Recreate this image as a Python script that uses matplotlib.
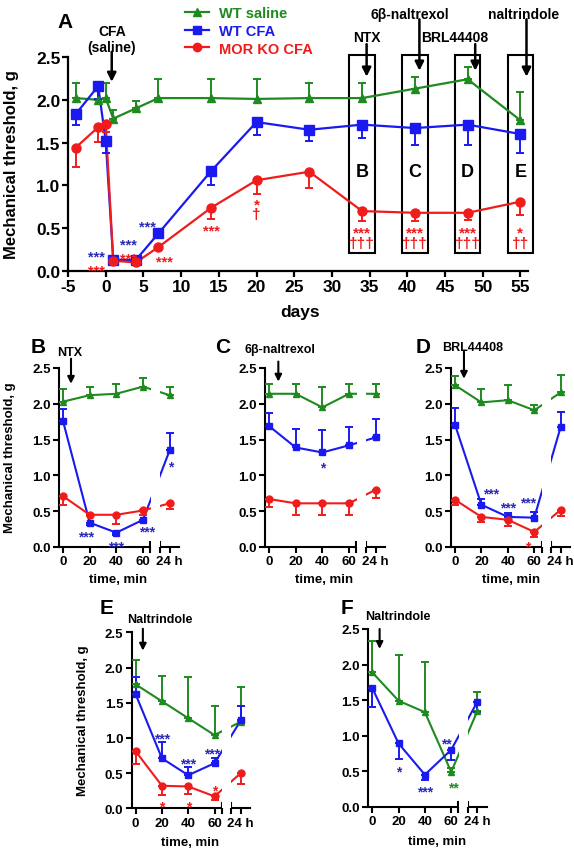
import numpy as np
import matplotlib
matplotlib.use('Agg')
from matplotlib import pyplot as plt
from matplotlib.lines import Line2D
from matplotlib.patches import Rectangle
from matplotlib.ticker import FormatStrFormatter

plt.rcParams['font.family'] = ['Liberation Sans', 'DejaVu Sans']
plt.rcParams['font.weight'] = 'bold'
plt.rcParams['axes.unicode_minus'] = False

GREEN = '#1f8a1f'
BLUE = '#1a1af0'
RED = '#f01c1c'
STAR_BLUE = '#2a2ab8'

# ---- panel A : time course over days (sem > 0 drawn up, < 0 drawn down)
days = [-4, -1, 0, 1, 4, 7, 14, 20, 27, 34, 41, 48, 55]
a_saline = [2.02, 2.00, 2.02, 1.78, 1.90, 2.02, 2.02, 2.01, 2.02, 2.02, 2.13, 2.24, 1.76]
a_saline_sem = [0.18, 0.10, 0.18, 0.10, 0.09, 0.22, 0.22, 0.23, 0.18, 0.18, 0.14, 0.14, 0.33]
a_wt = [1.83, 2.16, 1.52, 0.13, 0.13, 0.44, 1.17, 1.74, 1.65, 1.71, 1.67, 1.71, 1.60]
a_wt_sem = [-0.13, -0.15, -0.14, -0.02, -0.02, -0.05, -0.17, -0.15, -0.13, -0.16, -0.20, -0.24, -0.22]
a_ko = [1.44, 1.68, 1.72, 0.12, 0.10, 0.28, 0.74, 1.06, 1.16, 0.70, 0.68, 0.68, 0.81]
a_ko_sem = [-0.23, -0.17, -0.10, -0.02, -0.02, -0.03, -0.13, -0.16, -0.19, -0.12, -0.10, -0.08, -0.16]
box_days = [34, 41, 48, 55]
box_letters = ['B', 'C', 'D', 'E']

# ---- panels B-F : time after drug
time_labels = ['0', '20', '40', '60', '24 h']
time_pos = [0, 20, 40, 60, 80]

b_saline = [2.03, 2.12, 2.14, 2.24, 2.12]
b_saline_sem = [0.18, 0.12, 0.14, 0.12, 0.12]
b_wt = [1.76, 0.34, 0.20, 0.38, 1.35]
b_wt_sem = [0.17, -0.03, -0.03, -0.03, 0.24]
b_ko = [0.71, 0.45, 0.45, 0.51, 0.61]
b_ko_sem = [-0.13, -0.02, -0.13, -0.07, -0.08]

c_saline = [2.14, 2.14, 1.95, 2.14, 2.14]
c_saline_sem = [0.14, 0.14, 0.29, 0.14, 0.14]
c_wt = [1.69, 1.39, 1.32, 1.42, 1.53]
c_wt_sem = [0.18, 0.26, 0.32, 0.25, 0.26]
c_ko = [0.67, 0.61, 0.61, 0.61, 0.80]
c_ko_sem = [-0.11, -0.16, -0.16, -0.16, -0.12]

d_saline = [2.26, 2.02, 2.05, 1.91, 2.16]
d_saline_sem = [0.13, 0.19, 0.21, 0.08, 0.24]
d_wt = [1.71, 0.59, 0.42, 0.41, 1.68]
d_wt_sem = [0.23, 0.08, 0.05, 0.08, 0.21]
d_ko = [0.66, 0.42, 0.38, 0.21, 0.52]
d_ko_sem = [-0.08, -0.07, -0.08, -0.07, -0.09]

e_saline = [1.76, 1.52, 1.28, 1.04, 1.23]
e_saline_sem = [0.34, 0.36, 0.58, 0.42, 0.50]
e_wt = [1.62, 0.71, 0.47, 0.64, 1.25]
e_wt_sem = [0.24, 0.23, 0.11, 0.08, 0.21]
e_ko = [0.81, 0.32, 0.31, 0.17, 0.50]
e_ko_sem = [-0.18, -0.13, -0.10, -0.05, -0.16]

f_saline = [1.89, 1.49, 1.33, 0.49, 1.35]
f_saline_sem = [0.44, 0.64, 0.71, 0.05, 0.26]
f_wt = [1.67, 0.89, 0.45, 0.80, 1.48]
f_wt_sem = [-0.27, -0.22, -0.07, -0.14, -0.15]

# significance marks: (x, y, text, colour)
a_marks = [(-1.2, 0.225, '***', STAR_BLUE), (-1.2, 0.06, '***', RED),
           (3.0, 0.36, '***', STAR_BLUE), (3.0, 0.20, '***', RED),
           (5.6, 0.57, '***', STAR_BLUE), (7.8, 0.16, '***', RED),
           (14, 0.52, '***', RED)]
# stacked star / dagger pairs: (x, y, text)
a_stacks = [(20, 0.72, '*\n\u2020'),
            (34, 0.39, '***\n\u2020\u2020\u2020'),
            (41, 0.39, '***\n\u2020\u2020\u2020'),
            (48, 0.39, '***\n\u2020\u2020\u2020'),
            (55, 0.39, '*\n\u2020\u2020')]
b_marks = [(17, 0.20, '***', STAR_BLUE), (40, 0.06, '***', STAR_BLUE),
           (63, 0.26, '***', STAR_BLUE), (81, 1.18, '*', STAR_BLUE)]
c_marks = [(40, 1.16, '*', STAR_BLUE)]
d_marks = [(27, 0.80, '***', STAR_BLUE), (40, 0.60, '***', STAR_BLUE),
           (55, 0.67, '***', STAR_BLUE), (55, 0.06, '*', RED)]
e_marks = [(20, 1.04, '***', STAR_BLUE), (40, 0.68, '***', STAR_BLUE),
           (58, 0.83, '***', STAR_BLUE), (20, 0.08, '*', RED),
           (40, 0.08, '*', RED), (60, 0.31, '*', RED)]
f_marks = [(20, 0.55, '*', STAR_BLUE), (40, 0.26, '***', STAR_BLUE),
           (56, 0.94, '**', STAR_BLUE), (62, 0.32, '**', GREEN)]

W, H = 574, 853
fig = plt.figure(figsize=(W / 100, H / 100), dpi=100)


def px(x, y):
    return x / W, 1 - y / H


def rect(left, top, right, bottom):
    return [left / W, 1 - bottom / H, (right - left) / W, (bottom - top) / H]


def series(ax, x, y, sem, color, marker, ms, lw=1.6):
    s = np.array(sem)
    lo = np.where(s < 0, -s, 0)
    hi = np.where(s > 0, s, 0)
    ax.plot(x, y, color=color, lw=lw, zorder=2, clip_on=False)
    ax.errorbar(x, y, yerr=[lo, hi], fmt=marker, color=color, ms=ms,
                capsize=2.6, elinewidth=1.4, capthick=1.4, zorder=3, clip_on=False)


def marks(ax, items, size):
    for x, y, t, c in items:
        ax.text(x, y - 0.05, t, color=c, fontsize=size, ha='center',
                va='center', zorder=5)


# ---------------- Panel A
ax = fig.add_axes(rect(68, 58, 528, 272))
series(ax, days, a_saline, a_saline_sem, GREEN, '^', 6)
series(ax, days, a_wt, a_wt_sem, BLUE, 's', 6.5)
series(ax, days, a_ko, a_ko_sem, RED, 'o', 6.5)
ax.set_xlim(-5, 56)
ax.set_ylim(0, 2.5)
ax.set_xticks(range(-5, 56, 5))
ax.set_yticks(np.arange(0, 2.51, 0.5))
ax.yaxis.set_major_formatter(FormatStrFormatter('%.1f'))
for sp in ['top', 'right']:
    ax.spines[sp].set_visible(False)
for sp in ['left', 'bottom']:
    ax.spines[sp].set_linewidth(1.6)
ax.tick_params(direction='out', length=4, width=1.6, labelsize=12.5, pad=1.5)
marks(ax, a_marks, 10.5)
for x, y, t in a_stacks:
    ax.text(x, y, t, color=RED, fontsize=11, ha='center', va='center',
            linespacing=0.62, zorder=5)
for d, letter in zip(box_days, box_letters):
    ax.add_patch(Rectangle((d - 1.7, 0.21), 3.4, 2.31, fill=False, lw=1.5,
                           ec='black', clip_on=False, zorder=1))
    ax.text(d, 1.16, letter, ha='center', va='center', fontsize=13)

arrow = dict(arrowstyle='-|>', color='black', lw=1.8, mutation_scale=13,
             shrinkA=0, shrinkB=0)
for x, y0, y1 in [(0.8, 2.56, 2.21), (34.6, 2.65, 2.27), (41.6, 2.94, 2.34),
                  (49.0, 2.65, 2.34), (55.8, 2.94, 2.27)]:
    ax.annotate('', xy=(x, y1), xytext=(x, y0), arrowprops=arrow,
                annotation_clip=False)
fig.text(*px(112, 40), 'CFA\n(saline)', ha='center', va='center', fontsize=10,
         linespacing=1.1)
fig.text(*px(367, 38), 'NTX', ha='center', va='center', fontsize=10)
fig.text(*px(410, 15), '6\u03b2-naltrexol', ha='center', va='center', fontsize=10)
fig.text(*px(455, 38), 'BRL44408', ha='center', va='center', fontsize=10)
fig.text(*px(524, 15), 'naltrindole', ha='center', va='center', fontsize=10)
fig.text(*px(65, 22), 'A', ha='center', va='center', fontsize=15)
fig.text(*px(12, 165), 'Mechanical threshold, g', rotation=90, ha='center',
         va='center', fontsize=12)
fig.text(*px(300, 312), 'days', ha='center', va='center', fontsize=12.5)

handles = [Line2D([], [], color=GREEN, marker='^', ms=6, lw=1.6),
           Line2D([], [], color=BLUE, marker='s', ms=6, lw=1.6),
           Line2D([], [], color=RED, marker='o', ms=6, lw=1.6)]
leg = fig.legend(handles, ['WT saline', 'WT CFA', 'MOR KO CFA'], loc='upper left',
                 bbox_to_anchor=px(178, 0), frameon=False, borderpad=0,
                 handlelength=1.6, handletextpad=0.7, labelspacing=0.25,
                 prop=dict(weight='bold', size=10.5))
for t, c in zip(leg.get_texts(), [GREEN, BLUE, RED]):
    t.set_color(c)


# ---------------- Panels B-F
def time_panel(box, wt, wt_sem, ko, ko_sem, sal, sal_sem, items):
    ax = fig.add_axes(box)
    ax.axvspan(66, 72.5, color='white', zorder=2.5, lw=0)
    series(ax, time_pos, sal, sal_sem, GREEN, '^', 4.5, 1.5)
    series(ax, time_pos, wt, wt_sem, BLUE, 's', 5, 1.5)
    if ko is not None:
        series(ax, time_pos, ko, ko_sem, RED, 'o', 5, 1.5)
    ax.set_xlim(-3, 87)
    ax.set_ylim(0, 2.5)
    ax.set_xticks(time_pos, time_labels)
    ax.set_yticks(np.arange(0, 2.51, 0.5))
    ax.yaxis.set_major_formatter(FormatStrFormatter('%.1f'))
    for sp in ['top', 'right', 'bottom']:
        ax.spines[sp].set_visible(False)
    ax.spines['left'].set_linewidth(1.5)
    ax.tick_params(direction='out', length=4, width=1.5, labelsize=9.5, pad=2)
    tr = ax.get_xaxis_transform()
    for x0, x1 in [(-3, 65.5), (72.8, 87)]:
        ax.plot([x0, x1], [0, 0], color='black', lw=1.5, transform=tr, clip_on=False)
    for xb in [65.5, 72.8]:
        ax.plot([xb, xb], [-0.028, 0.028], color='black', lw=1.5, transform=tr,
                clip_on=False)
    marks(ax, items, 10)
    return ax


def drug_arrow(ax, x, y0, y1):
    ax.annotate('', xy=(x, y1), xytext=(x, y0),
                arrowprops=dict(arrowstyle='-|>', color='black', lw=1.5,
                                mutation_scale=10, shrinkA=0, shrinkB=0),
                annotation_clip=False)


axb = time_panel(rect(59, 369, 179, 548), b_wt, b_wt_sem, b_ko, b_ko_sem,
                 b_saline, b_saline_sem, b_marks)
drug_arrow(axb, 6, 2.63, 2.28)
axc = time_panel(rect(265, 369, 385, 548), c_wt, c_wt_sem, c_ko, c_ko_sem,
                 c_saline, c_saline_sem, c_marks)
drug_arrow(axc, 7, 2.59, 2.31)
axd = time_panel(rect(451, 369, 570, 548), d_wt, d_wt_sem, d_ko, d_ko_sem,
                 d_saline, d_saline_sem, d_marks)
drug_arrow(axd, 6.8, 2.73, 2.35)
axe = time_panel(rect(131.7, 633.3, 250, 809.3), e_wt, e_wt_sem, e_ko, e_ko_sem,
                 e_saline, e_saline_sem, e_marks)
drug_arrow(axe, 5.5, 2.55, 2.24)
axf = time_panel(rect(368.3, 630, 486.7, 807.7), f_wt, f_wt_sem, None, None,
                 f_saline, f_saline_sem, f_marks)
drug_arrow(axf, 5.6, 2.5, 2.22)

for letter, lx, ly in [('B', 38, 348), ('C', 223, 348), ('D', 423, 348),
                       ('E', 107, 608), ('F', 347, 608)]:
    fig.text(*px(lx, ly), letter, ha='center', va='center', fontsize=15)
for name, lx, ly in [('NTX', 70, 353), ('6\u03b2-naltrexol', 280, 350),
                     ('BRL44408', 473, 348), ('Naltrindole', 160, 620),
                     ('Naltrindole', 398, 617)]:
    fig.text(*px(lx, ly), name, ha='center', va='center', fontsize=9)
for lx, ly in [(118, 580), (324, 580), (511, 580), (190, 843), (437, 842)]:
    fig.text(*px(lx, ly), 'time, min', ha='center', va='center', fontsize=9.5)
for lx, ly in [(10, 458), (83, 721)]:
    fig.text(*px(lx, ly), 'Mechanical threshold, g', rotation=90, ha='center',
             va='center', fontsize=9.5)

fig.savefig('out.png', dpi=100)
